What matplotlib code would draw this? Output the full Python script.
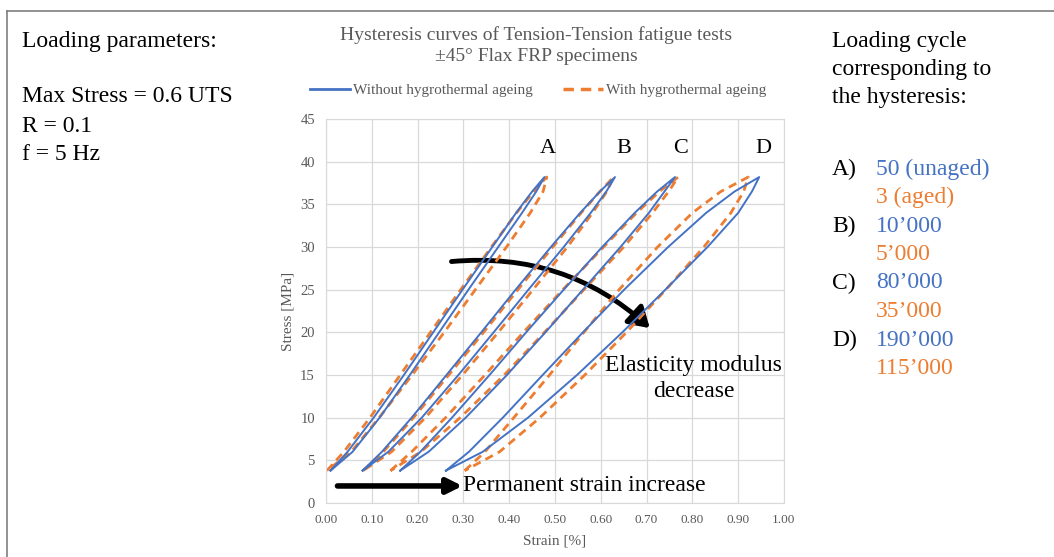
import matplotlib
matplotlib.use("Agg")
import matplotlib.pyplot as plt
from matplotlib.lines import Line2D
from matplotlib.patches import FancyArrowPatch

plt.rcParams["font.family"] = ["Liberation Serif", "DejaVu Serif"]

BLUE = "#4472C4"
ORANGE = "#ED7D31"
GRAY = "#595959"

# stress levels shared by every branch (MPa)
stress = [3.8, 6, 10, 15, 20, 25, 30, 34, 36.5, 38.2]

# strain [%] of the left (upper) and right (lower) branch of each loop
blue_A_left = [0.010, 0.047, 0.104, 0.170, 0.234, 0.298, 0.363, 0.415, 0.450, 0.477]
blue_A_right = [0.010, 0.058, 0.117, 0.183, 0.247, 0.311, 0.376, 0.428, 0.459, 0.477]
orange_A_left = [0.002, 0.039, 0.096, 0.162, 0.228, 0.294, 0.361, 0.416, 0.453, 0.482]
orange_A_right = [0.002, 0.055, 0.116, 0.188, 0.258, 0.326, 0.394, 0.446, 0.474, 0.482]

blue_B_left = [0.080, 0.122, 0.187, 0.263, 0.339, 0.414, 0.491, 0.555, 0.598, 0.631]
blue_B_right = [0.080, 0.136, 0.209, 0.289, 0.366, 0.442, 0.519, 0.578, 0.612, 0.631]
orange_B_left = [0.081, 0.125, 0.191, 0.268, 0.344, 0.419, 0.495, 0.557, 0.598, 0.628]
orange_B_right = [0.081, 0.143, 0.217, 0.298, 0.376, 0.452, 0.527, 0.582, 0.613, 0.628]

blue_C_left = [0.162, 0.206, 0.275, 0.357, 0.437, 0.519, 0.603, 0.674, 0.723, 0.762]
blue_C_right = [0.162, 0.224, 0.305, 0.395, 0.479, 0.561, 0.643, 0.705, 0.739, 0.762]
orange_C_left = [0.141, 0.187, 0.261, 0.347, 0.431, 0.517, 0.606, 0.678, 0.728, 0.769]
orange_C_right = [0.141, 0.207, 0.293, 0.389, 0.477, 0.563, 0.650, 0.713, 0.748, 0.769]

blue_D_left = [0.262, 0.312, 0.386, 0.473, 0.561, 0.651, 0.747, 0.830, 0.892, 0.946]
blue_D_right = [0.262, 0.342, 0.441, 0.548, 0.647, 0.741, 0.833, 0.900, 0.930, 0.946]
orange_D_left = [0.303, 0.347, 0.410, 0.488, 0.563, 0.640, 0.724, 0.800, 0.862, 0.922]
orange_D_right = [0.303, 0.379, 0.467, 0.565, 0.656, 0.742, 0.825, 0.884, 0.912, 0.922]

blue_loops = [(blue_A_left, blue_A_right), (blue_B_left, blue_B_right),
              (blue_C_left, blue_C_right), (blue_D_left, blue_D_right)]
orange_loops = [(orange_A_left, orange_A_right), (orange_B_left, orange_B_right),
                (orange_C_left, orange_C_right), (orange_D_left, orange_D_right)]

loop_names = ["A", "B", "C", "D"]
name_x = [0.485, 0.650, 0.775, 0.955]

cycle_labels = ["A)", "B)", "C)", "D)"]
unaged_cycles = ["50 (unaged)", "10\u2019000", "80\u2019000", "190\u2019000"]
aged_cycles = ["3 (aged)", "5\u2019000", "35\u2019000", "115\u2019000"]

fig = plt.figure(figsize=(10.54, 5.57), dpi=100)
ax = fig.add_axes([0.3093, 0.0969, 0.4345, 0.6894])


def closed(left, right):
    xs = left + right[::-1]
    ys = stress + stress[::-1]
    return xs, ys


for left, right in orange_loops:
    xs, ys = closed(left, right)
    ax.plot(xs, ys, color=ORANGE, lw=2.0, dashes=(3, 2), solid_joinstyle="round")
for left, right in blue_loops:
    xs, ys = closed(left, right)
    ax.plot(xs, ys, color=BLUE, lw=1.4)

ax.set_xlim(0, 1)
ax.set_ylim(0, 45)
ax.set_xticks([i / 10 for i in range(11)])
ax.set_xticklabels([f"{i / 10:.2f}" for i in range(11)])
ax.set_yticks(range(0, 46, 5))
ax.grid(True, color="#d9d9d9", lw=0.9)
ax.set_axisbelow(True)
for sp in ax.spines.values():
    sp.set_color("#d9d9d9")
ax.tick_params(length=0, labelcolor=GRAY, pad=8)
ax.tick_params(axis="x", labelsize=9.5)
ax.tick_params(axis="y", labelsize=10.5)
ax.set_xlabel("Strain [%]", fontsize=11, color=GRAY, labelpad=6)
ax.set_ylabel("Stress [MPa]", fontsize=11, color=GRAY, labelpad=4)

for name, x in zip(loop_names, name_x):
    ax.text(x, 41.5, name, fontsize=16, ha="center", va="center")

# arrows and annotations
ax.annotate("", xy=(0.298, 2.0), xytext=(0.025, 2.0),
            arrowprops=dict(arrowstyle="-|>,head_length=0.9,head_width=0.45",
                            lw=4, color="black", shrinkA=0, shrinkB=0))
ax.text(0.300, 2.0, "Permanent strain increase", fontsize=17, va="center", ha="left")

arc = FancyArrowPatch((0.274, 28.3), (0.707, 20.5), connectionstyle="arc3,rad=-0.22",
                      arrowstyle="-|>,head_length=8,head_width=5", lw=3.5, color="black",
                      shrinkA=0, shrinkB=0, mutation_scale=1.5)
ax.add_patch(arc)
ax.text(0.803, 14.6, "Elasticity modulus\ndecrease", fontsize=17, ha="center", va="center",
        linespacing=1.35)

# title and legend
fig.text(0.5085, 0.918, "Hysteresis curves of Tension-Tension fatigue tests\n\u00b145\u00b0 Flax FRP specimens",
         ha="center", va="center", fontsize=14, color=GRAY, linespacing=1.35)
handles = [Line2D([], [], color=BLUE, lw=2),
           Line2D([], [], color=ORANGE, lw=2.5, dashes=(3, 2))]
fig.legend(handles, ["Without hygrothermal ageing", "With hygrothermal ageing"],
           loc="center", bbox_to_anchor=(0.5104, 0.838), ncol=2, frameon=False,
           fontsize=11, labelcolor=GRAY, handlelength=2.6, columnspacing=2.0, handletextpad=0.2)

# side panels
fig.text(22 / 1054, 1 - 42 / 557, "Loading parameters:", fontsize=17, va="center")
for i, line in enumerate(["Max Stress = 0.6 UTS", "R = 0.1", "f = 5 Hz"]):
    fig.text(22 / 1054, 1 - (97 + 29 * i) / 557, line, fontsize=17, va="center")

for i, line in enumerate(["Loading cycle", "corresponding to", "the hysteresis:"]):
    fig.text(832 / 1054, 1 - (41 + 28.5 * i) / 557, line, fontsize=17, va="center")
for i, lab in enumerate(cycle_labels):
    y1 = 169 + 57 * i
    fig.text(832 / 1054, 1 - y1 / 557, lab, fontsize=17, va="center")
    fig.text(876 / 1054, 1 - y1 / 557, unaged_cycles[i], fontsize=17, va="center", color=BLUE)
    fig.text(876 / 1054, 1 - (y1 + 28.5) / 557, aged_cycles[i], fontsize=17, va="center", color=ORANGE)

# frame around the figure (cut at right and bottom)
fig.add_artist(Line2D([7 / 1054, 1.0], [1 - 11 / 557, 1 - 11 / 557], color="#7f7f7f", lw=1.2))
fig.add_artist(Line2D([7 / 1054, 7 / 1054], [0.0, 1 - 11 / 557], color="#7f7f7f", lw=1.2))

fig.savefig("out.png", dpi=100)
